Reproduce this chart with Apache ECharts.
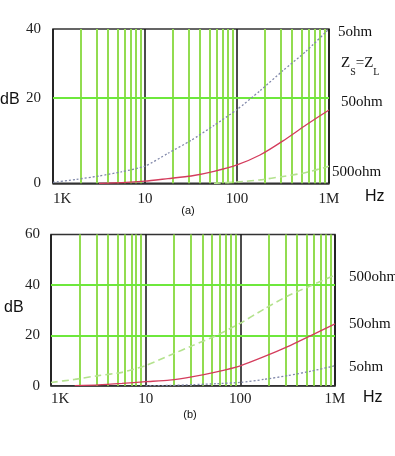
<!DOCTYPE html>
<html><head><meta charset="utf-8">
<script src="https://cdn.jsdelivr.net/npm/echarts@6/dist/echarts.min.js"></script>
<style>html,body{margin:0;padding:0;background:#fff}#c{width:395px;height:456px}</style>
</head><body><div id="c"></div>
<script>
// frequency points (Hz), quarter-decade steps
const freqHz = [1000, 1778, 3162, 5623, 10000, 17783, 31623, 56234, 100000, 177828, 316228, 562341, 1000000];
// x tick labels keyed by decade exponent
const xTickLabels = { 3: '1K', 4: '10', 5: '100', 6: '1M' };
const minorMultipliers = [2, 3, 4, 5, 6, 7, 8, 9];
const decadeStarts = [1000, 10000, 100000];

// panel (a)  values in dB (null = not drawn)
const a5ohm   = [0.2, 0.9, 1.7, 2.7, 4.0, 7.0, 10.0, 13.5, 17.2, 21.6, 26.3, 30.8, 36.0];
const a50ohm  = [null, null, 0.0, 0.15, 0.5, 1.1, 1.7, 2.8, 4.3, 6.6, 9.9, 13.6, 17.1];
const a500ohm = [null, null, null, null, null, null, null, 0.0, 0.3, 0.8, 1.6, 2.5, 4.0];
const aYMax = 36;
const aYLabels = { 0: '0', 20: '20', 36: '40' };
const aGridDb = [20];

// panel (b)
const b500ohm = [1.3, 2.5, 4.0, 5.3, 8.0, 12.0, 16.0, 20.0, 24.8, 30.4, 35.6, 39.8, 43.9];
const b50ohm  = [null, 0.0, 0.3, 0.9, 1.6, 2.2, 3.6, 5.5, 7.9, 11.5, 15.5, 20.0, 24.5];
const b5ohm   = [null, null, null, null, 0.0, 0.1, 0.4, 0.8, 1.3, 2.5, 4.0, 5.8, 7.9];
const bYMax = 60;
const bGridDb = [20, 40];

const SERIF = "'Liberation Serif','Times New Roman',serif";
const SANS = "'Liberation Sans',Arial,sans-serif";
const GREEN_V = '#92dc50';
const GREEN_H = '#6ee83c';

function pts(vals) {
  const out = [];
  vals.forEach((v, i) => { if (v != null) out.push([Math.log10(freqHz[i]), v]); });
  return out;
}
const minorX = [];
decadeStarts.forEach(d => minorMultipliers.forEach(m => minorX.push(Math.log10(d * m))));

function xAxis(gi) {
  return {
    type: 'value', gridIndex: gi, min: 3, max: 6, interval: 1,
    axisLine: { show: true, lineStyle: { color: '#333', width: 1.5 } },
    axisTick: { show: false },
    axisLabel: {
      fontFamily: SERIF, fontSize: 15, color: '#222', margin: gi === 0 ? 8 : 6,
      alignMinLabel: 'left',
      formatter: v => xTickLabels[Math.round(v)] || ''
    },
    splitLine: { show: true, lineStyle: { color: '#111', width: 1.5 } }
  };
}
function gridLinesSeries(gi, hLines) {
  return {
    type: 'line', xAxisIndex: gi, yAxisIndex: gi, data: [], z: 1, silent: true,
    markLine: {
      silent: true, symbol: 'none', animation: false,
      label: { show: false },
      data: minorX.map(x => ({ xAxis: x, lineStyle: { color: GREEN_V, width: 2, type: 'solid' } }))
        .concat(hLines.map(y => ({ yAxis: y, lineStyle: { color: GREEN_H, width: 2, type: 'solid' } })))
    }
  };
}
function curve(gi, vals, kind) {
  const styles = {
    blue: { color: '#8088aa', width: 1.3, type: [2, 2] },
    red: { color: '#d43c5c', width: 1.3, type: 'solid' },
    green: { color: '#b4e28e', width: 1.6, type: [7, 4] }
  };
  return {
    type: 'line', xAxisIndex: gi, yAxisIndex: gi, data: pts(vals), z: 5,
    showSymbol: false, smooth: 0.2, silent: true,
    lineStyle: styles[kind], itemStyle: { color: styles[kind].color }, animation: false
  };
}
function txt(text, x, y, font, size, align) {
  return { type: 'text', x: x, y: y, silent: true,
    style: { text: text, fontFamily: font, fontSize: size, fill: '#111', align: align || 'left', verticalAlign: 'middle' } };
}

const chart = echarts.init(document.getElementById('c'), null, { renderer: 'canvas' });
chart.setOption({
  animation: false,
  backgroundColor: '#fff',
  grid: [
    { left: 53, right: 66, top: 29, bottom: 272.7, show: true, borderColor: '#333', borderWidth: 1.5, backgroundColor: 'transparent' },
    { left: 51, right: 60, top: 234.5, bottom: 70.3, show: true, borderColor: '#333', borderWidth: 1.5, backgroundColor: 'transparent' }
  ],
  xAxis: [xAxis(0), xAxis(1)],
  yAxis: [
    { type: 'value', gridIndex: 0, min: 0, max: aYMax, interval: 20,
      axisLine: { show: false }, axisTick: { show: false }, splitLine: { show: false },
      axisLabel: { fontFamily: SERIF, fontSize: 15, color: '#222', margin: 12, formatter: v => aYLabels[Math.round(v)] || '' } },
    { type: 'value', gridIndex: 1, min: 0, max: bYMax, interval: 20,
      axisLine: { show: false }, axisTick: { show: false }, splitLine: { show: false },
      axisLabel: { fontFamily: SERIF, fontSize: 15, color: '#222', margin: 11 } }
  ],
  series: [
    gridLinesSeries(0, aGridDb),
    gridLinesSeries(1, bGridDb),
    curve(0, a5ohm, 'blue'),
    curve(0, a50ohm, 'red'),
    curve(0, a500ohm, 'green'),
    curve(1, b500ohm, 'green'),
    curve(1, b50ohm, 'red'),
    curve(1, b5ohm, 'blue')
  ],
  graphic: [
    txt('5ohm', 338, 32, SERIF, 15),
    { type: 'text', x: 341, y: 68, silent: true,
      style: { text: '{m|Z}{s|S}{m|=Z}{s|L}', verticalAlign: 'middle', fill: '#111',
        rich: { m: { fontFamily: SERIF, fontSize: 15, height: 20, verticalAlign: 'top', fill: '#111' },
                s: { fontFamily: SERIF, fontSize: 10, height: 20, verticalAlign: 'bottom', fill: '#111', padding: [9, 0, 0, 0] } } } },
    txt('50ohm', 341, 102, SERIF, 15),
    txt('500ohm', 332, 172, SERIF, 15),
    txt('Hz', 365, 197, SANS, 16),
    txt('dB', 0, 100, SANS, 16),
    txt('(a)', 188, 211, SANS, 11, 'center'),
    txt('500ohm', 349, 277, SERIF, 15),
    txt('50ohm', 349, 324, SERIF, 15),
    txt('5ohm', 349, 367, SERIF, 15),
    txt('Hz', 363, 398, SANS, 16),
    txt('dB', 4, 308, SANS, 16),
    txt('(b)', 190, 415, SANS, 11, 'center')
  ]
});
</script></body></html>
